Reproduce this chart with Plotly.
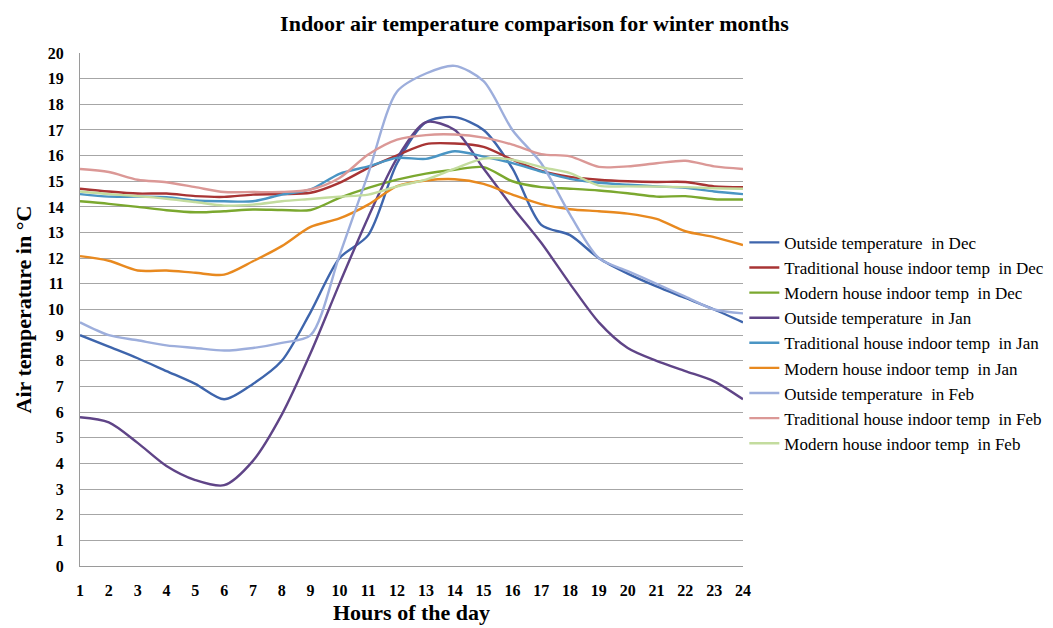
import plotly.graph_objects as go

hours = list(range(1, 25))

outside_dec = [9.0, 8.55, 8.1, 7.6, 7.1, 6.5, 7.1, 8.0, 9.9, 12.0, 12.9, 15.7,
               17.3, 17.5, 17.0, 15.5, 13.3, 12.9, 12.0, 11.4, 10.9, 10.45, 10.0, 9.5]
trad_dec = [14.71, 14.6, 14.52, 14.52, 14.42, 14.39, 14.48, 14.5, 14.55, 14.94, 15.52, 16.01,
            16.45, 16.47, 16.34, 15.84, 15.4, 15.17, 15.06, 15.0, 14.97, 14.97, 14.8, 14.77]
modern_dec = [14.22, 14.12, 14.0, 13.87, 13.79, 13.83, 13.9, 13.88, 13.88, 14.35, 14.74, 15.06,
              15.3, 15.45, 15.55, 15.0, 14.77, 14.71, 14.64, 14.53, 14.4, 14.42, 14.3, 14.29]
outside_jan = [5.8, 5.6, 4.8, 3.9, 3.35, 3.15, 4.1, 5.9, 8.3, 11.0, 13.6, 15.9,
               17.3, 17.0, 15.5, 14.0, 12.6, 11.0, 9.5, 8.5, 8.0, 7.6, 7.2, 6.5]
trad_jan = [14.5, 14.4, 14.4, 14.38, 14.25, 14.22, 14.22, 14.48, 14.68, 15.29, 15.58, 15.91,
            15.87, 16.17, 15.96, 15.71, 15.38, 15.09, 14.94, 14.87, 14.8, 14.74, 14.6, 14.5]
modern_jan = [12.08, 11.9, 11.52, 11.52, 11.43, 11.36, 11.88, 12.47, 13.22, 13.55, 14.09, 14.81,
              15.03, 15.08, 14.9, 14.48, 14.11, 13.91, 13.83, 13.74, 13.53, 13.05, 12.82, 12.51]
outside_feb = [9.5, 9.0, 8.8, 8.6, 8.5, 8.4, 8.5, 8.7, 9.0, 12.1, 15.3, 18.5,
               19.2, 19.5, 18.9, 17.0, 15.7, 13.7, 12.0, 11.5, 11.0, 10.5, 10.0, 9.85]
trad_feb = [15.48, 15.36, 15.06, 14.96, 14.77, 14.58, 14.58, 14.58, 14.68, 15.13, 16.04, 16.62,
            16.8, 16.82, 16.7, 16.43, 16.06, 15.97, 15.56, 15.58, 15.7, 15.8, 15.58, 15.48]
modern_feb = [14.6, 14.5, 14.42, 14.32, 14.19, 14.05, 14.09, 14.22, 14.31, 14.4, 14.48, 14.8,
              15.06, 15.49, 15.88, 15.84, 15.55, 15.32, 14.83, 14.8, 14.79, 14.77, 14.73, 14.71]

series = [
    ("Outside temperature  in Dec", outside_dec, "#3E65AC"),
    ("Traditional house indoor temp  in Dec", trad_dec, "#A83434"),
    ("Modern house indoor temp  in Dec", modern_dec, "#7BA82F"),
    ("Outside temperature  in Jan", outside_jan, "#5F4487"),
    ("Traditional house indoor temp  in Jan", trad_jan, "#4A95C4"),
    ("Modern house indoor temp  in Jan", modern_jan, "#E8891F"),
    ("Outside temperature  in Feb", outside_feb, "#9DAEDC"),
    ("Traditional house indoor temp  in Feb", trad_feb, "#DB9896"),
    ("Modern house indoor temp  in Feb", modern_feb, "#C3DC9E"),
]

serif = "Liberation Serif"

fig = go.Figure()
for name, vals, color in series:
    fig.add_trace(go.Scatter(
        x=hours, y=vals, mode="lines", name=name,
        line=dict(color=color, width=2.4, shape="spline", smoothing=0.8),
    ))

fig.update_layout(
    width=1053, height=628,
    paper_bgcolor="white", plot_bgcolor="white",
    margin=dict(l=72, r=315, t=45, b=70),
    title=dict(text="<b>Indoor air temperature comparison for winter months</b>",
               x=0.5, xanchor="center", y=0.975, yanchor="middle",
               font=dict(family=serif, size=22, color="black")),
    showlegend=True,
    legend=dict(x=1.002, xanchor="left", y=0.435, yanchor="middle",
                font=dict(family=serif, size=17, color="black"),
                bgcolor="rgba(0,0,0,0)", tracegroupgap=0),
    xaxis=dict(
        range=[1, 24], tickmode="array", tickvals=hours,
        ticktext=[f"<b>{h}</b>" for h in hours],
        showgrid=False, zeroline=False,
        showline=True, linecolor="#9A9A9A", linewidth=1,
        ticks="", ticklabelstandoff=10,
        tickfont=dict(family=serif, size=16, color="black"),
        title=dict(text="<b>Hours of the day</b>", standoff=6,
                   font=dict(family=serif, size=22, color="black")),
    ),
    yaxis=dict(
        range=[0, 20], dtick=1, tick0=0,
        showgrid=True, gridcolor="#A6A6A6", gridwidth=1,
        zeroline=False, showline=True, linecolor="#9A9A9A", linewidth=1,
        ticks="", ticklabelstandoff=12,
        tickfont=dict(family=serif, size=16, color="black"),
        tickprefix="<b>", ticksuffix="</b>",
        title=dict(text="<b>Air temperature in °C</b>", standoff=10,
                   font=dict(family=serif, size=22, color="black")),
    ),
)

fig.write_html("out.html")
